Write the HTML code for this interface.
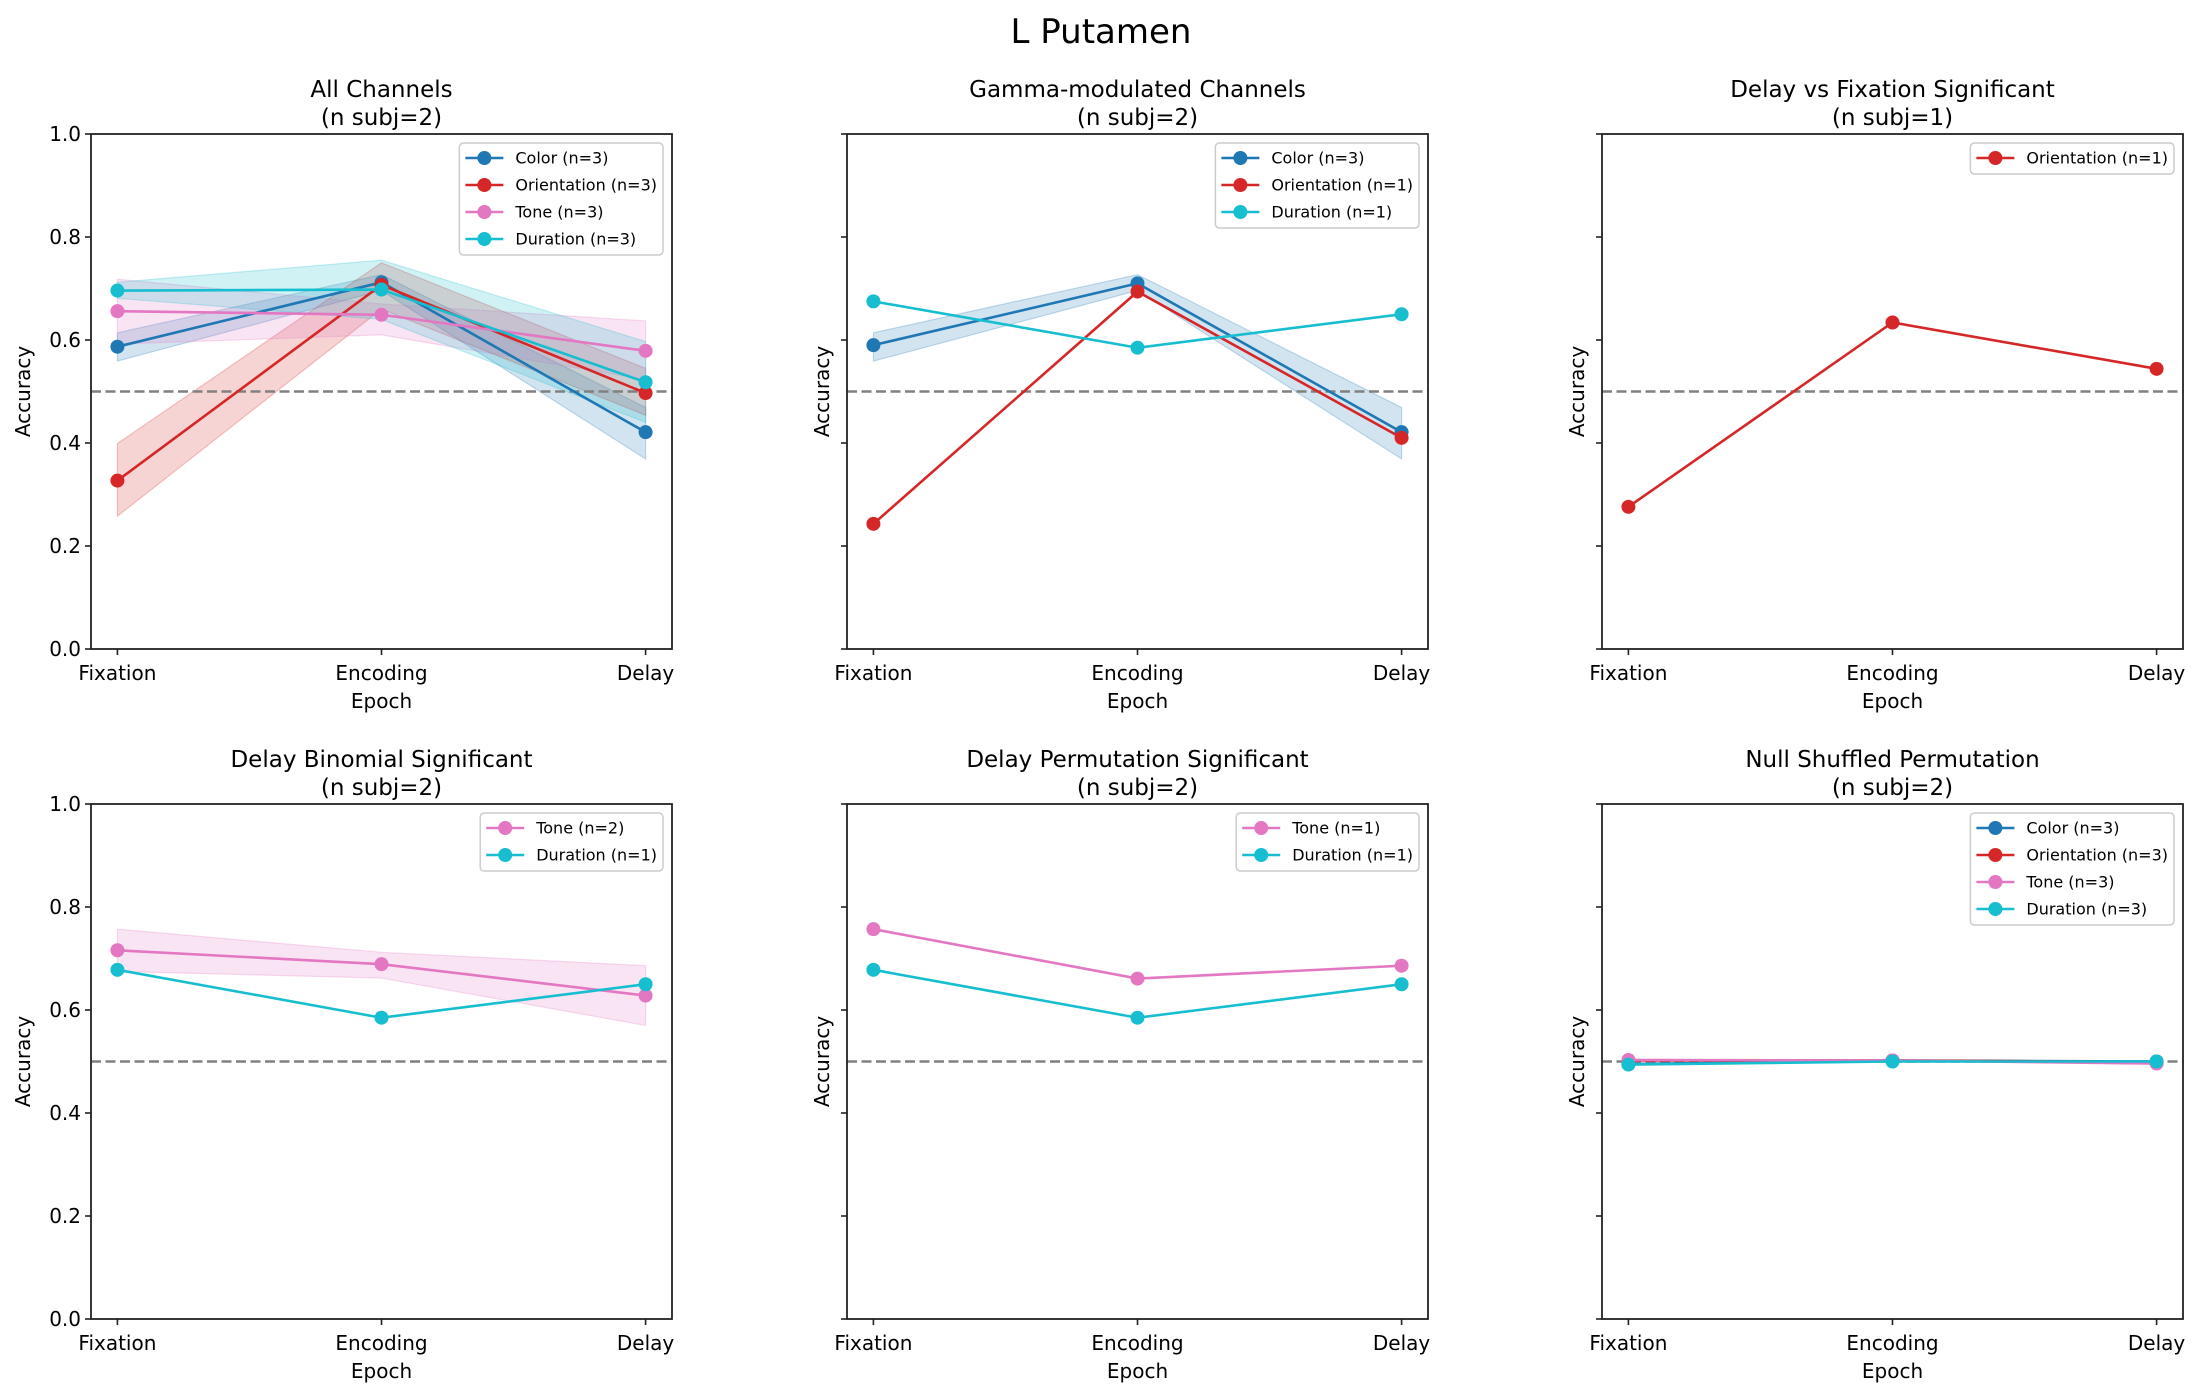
<!DOCTYPE html>
<html><head><meta charset="utf-8"><style>
html,body{margin:0;padding:0;background:#fff;}
svg{display:block;font-family:"DejaVu Sans","Liberation Sans",sans-serif;}
</style></head><body>
<svg id="fig" width="2201" height="1397" viewBox="0 0 2201 1397" xmlns="http://www.w3.org/2000/svg">
<rect width="2201" height="1397" fill="#fff"/>
<text x="1101" y="43" font-size="34" text-anchor="middle">L Putamen</text>
</svg>
<script>
const epochs = ["Fixation","Encoding","Delay"];
const yTicks = [0,0.2,0.4,0.6,0.8,1.0];
const yTickLabels = ["0.0","0.2","0.4","0.6","0.8","1.0"];
const chance = 0.5;
const colors = {Color:"#1f77b4",Orientation:"#d62728",Tone:"#e377c2",Duration:"#17becf"};

// Panel 1: All Channels
const p1ColorMean=[0.587,0.712,0.421], p1ColorLo=[0.559,0.696,0.369], p1ColorHi=[0.614,0.727,0.469];
const p1OriMean=[0.327,0.707,0.497], p1OriLo=[0.258,0.66,0.454], p1OriHi=[0.399,0.750,0.545];
const p1ToneMean=[0.656,0.649,0.579], p1ToneLo=[0.592,0.610,0.523], p1ToneHi=[0.718,0.670,0.637];
const p1DurMean=[0.696,0.698,0.518], p1DurLo=[0.681,0.640,0.440], p1DurHi=[0.712,0.755,0.597];
// Panel 2: Gamma-modulated
const p2ColorMean=[0.590,0.710,0.421], p2ColorLo=[0.559,0.696,0.369], p2ColorHi=[0.614,0.727,0.469];
const p2OriMean=[0.243,0.694,0.410];
const p2DurMean=[0.675,0.585,0.650];
// Panel 3
const p3OriMean=[0.276,0.634,0.544];
// Panel 4
const p4ToneMean=[0.716,0.689,0.628], p4ToneLo=[0.675,0.662,0.570], p4ToneHi=[0.757,0.712,0.686];
const p4DurMean=[0.678,0.585,0.650];
// Panel 5
const p5ToneMean=[0.757,0.661,0.686];
const p5DurMean=[0.678,0.585,0.650];
// Panel 6
const p6ColorMean=[0.495,0.502,0.500];
const p6OriMean=[0.502,0.502,0.499];
const p6ToneMean=[0.503,0.502,0.496];
const p6DurMean=[0.494,0.500,0.500];

const panels=[
 {title:"All Channels",sub:"(n subj=2)",col:0,row:0,series:[
  {k:"Color",lab:"Color (n=3)",m:p1ColorMean,lo:p1ColorLo,hi:p1ColorHi},
  {k:"Orientation",lab:"Orientation (n=3)",m:p1OriMean,lo:p1OriLo,hi:p1OriHi},
  {k:"Tone",lab:"Tone (n=3)",m:p1ToneMean,lo:p1ToneLo,hi:p1ToneHi},
  {k:"Duration",lab:"Duration (n=3)",m:p1DurMean,lo:p1DurLo,hi:p1DurHi}]},
 {title:"Gamma-modulated Channels",sub:"(n subj=2)",col:1,row:0,series:[
  {k:"Color",lab:"Color (n=3)",m:p2ColorMean,lo:p2ColorLo,hi:p2ColorHi},
  {k:"Orientation",lab:"Orientation (n=1)",m:p2OriMean},
  {k:"Duration",lab:"Duration (n=1)",m:p2DurMean}]},
 {title:"Delay vs Fixation Significant",sub:"(n subj=1)",col:2,row:0,series:[
  {k:"Orientation",lab:"Orientation (n=1)",m:p3OriMean}]},
 {title:"Delay Binomial Significant",sub:"(n subj=2)",col:0,row:1,series:[
  {k:"Tone",lab:"Tone (n=2)",m:p4ToneMean,lo:p4ToneLo,hi:p4ToneHi},
  {k:"Duration",lab:"Duration (n=1)",m:p4DurMean}]},
 {title:"Delay Permutation Significant",sub:"(n subj=2)",col:1,row:1,series:[
  {k:"Tone",lab:"Tone (n=1)",m:p5ToneMean},
  {k:"Duration",lab:"Duration (n=1)",m:p5DurMean}]},
 {title:"Null Shuffled Permutation",sub:"(n subj=2)",col:2,row:1,series:[
  {k:"Color",lab:"Color (n=3)",m:p6ColorMean},
  {k:"Orientation",lab:"Orientation (n=3)",m:p6OriMean},
  {k:"Tone",lab:"Tone (n=3)",m:p6ToneMean},
  {k:"Duration",lab:"Duration (n=3)",m:p6DurMean}]}
];
const NS="http://www.w3.org/2000/svg";
const fig=document.getElementById('fig');
function el(tag,attrs,parent){const e=document.createElementNS(NS,tag);for(const a in attrs)e.setAttribute(a,attrs[a]);(parent||fig).appendChild(e);return e;}
const colX=[91,847,1602], rowY=[134,804], W=581, H=515;
const LW=2.6;
panels.forEach((p,pi)=>{
  const L=colX[p.col], T=rowY[p.row];
  const g=el('g',{});
  
  
  const xs=i=>L+(i+0.1)/2.2*W;
  const ys=v=>T+H-v*H;
  const t1=el('text',{x:L+W/2,y:T-37,'font-size':23,'text-anchor':'middle'},g);t1.textContent=p.title;
  
  
  const t2=el('text',{x:L+W/2,y:T-9,'font-size':23,'text-anchor':'middle'},g);t2.textContent=p.sub;
  
  
  p.series.forEach(s=>{ if(!s.lo) return;
    let pts=s.hi.map((v,i)=>xs(i)+','+ys(v)).concat(s.lo.map((v,i)=>[i,v]).reverse().map(a=>xs(a[0])+','+ys(a[1])));
    const b=el('polygon',{points:pts.join(' '),fill:colors[s.k],'fill-opacity':0.2,stroke:colors[s.k],'stroke-opacity':0.25,'stroke-width':1.2},g);
    
    
  });
  const ch=el('line',{x1:L,x2:L+W,y1:ys(chance),y2:ys(chance),stroke:'#808080','stroke-width':2.6,'stroke-dasharray':'10,4.5'},g);
  
  
  p.series.forEach(s=>{
    const pl=el('polyline',{points:s.m.map((v,i)=>xs(i)+','+ys(v)).join(' '),fill:'none',stroke:colors[s.k],'stroke-width':LW},g);
    
    
    s.m.forEach((v,i)=>{
      const c=el('circle',{cx:xs(i),cy:ys(v),r:7,fill:colors[s.k]},g);
      
      
    });
  });
  const fr=el('rect',{x:L,y:T,width:W,height:H,fill:'none',stroke:'#222','stroke-width':1.8},g);
  
  
  yTicks.forEach((v,i)=>{
    el('line',{x1:L-6,x2:L,y1:ys(v),y2:ys(v),stroke:'#222','stroke-width':1.6},g);
    if(p.col===0){const tl=el('text',{x:L-10,y:ys(v)+7,'font-size':20,'text-anchor':'end'},g);tl.textContent=yTickLabels[i];
      
      }
  });
  epochs.forEach((e,i)=>{
    el('line',{x1:xs(i),x2:xs(i),y1:T+H,y2:T+H+6,stroke:'#222','stroke-width':1.6},g);
    const tl=el('text',{x:xs(i),y:T+H+31,'font-size':20,'text-anchor':'middle'},g);tl.textContent=e;
    
    
  });
  const xl=el('text',{x:L+W/2,y:T+H+59,'font-size':20,'text-anchor':'middle'},g);xl.textContent='Epoch';
  
  
  const yx=p.col===0?L-61:L-18;
  const yl=el('text',{x:yx,y:T+H/2,'font-size':20,'text-anchor':'middle',transform:'rotate(-90 '+yx+' '+(T+H/2)+')'},g);yl.textContent='Accuracy';
  
  
  const lg=el('g',{},g);
  
  
  const box=el('rect',{x:0,y:T+9,width:10,height:p.series.length*27+4,rx:4,fill:'#fff','fill-opacity':0.8,stroke:'#ccc','stroke-width':1.5},lg);
  let maxw=0; const items=[];
  p.series.forEach((s,i)=>{
    const cy=T+24+i*27;
    const ln=el('line',{y1:cy,y2:cy,stroke:colors[s.k],'stroke-width':LW},lg);
    const mk=el('circle',{cy:cy,r:7,fill:colors[s.k]},lg);
    const tx=el('text',{y:cy+5.5,'font-size':16},lg);tx.textContent=s.lab;
    
    
    maxw=Math.max(maxw,tx.getComputedTextLength());items.push([ln,mk,tx]);
  });
  const bw=maxw+62, bx=L+W-9-bw;
  box.setAttribute('x',bx);box.setAttribute('width',bw);
  items.forEach(([ln,mk,tx])=>{ln.setAttribute('x1',bx+6);ln.setAttribute('x2',bx+44);mk.setAttribute('cx',bx+25);tx.setAttribute('x',bx+56);});
});
</script>
</body></html>
